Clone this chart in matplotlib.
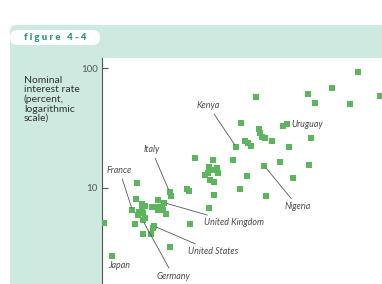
import matplotlib
matplotlib.use("Agg")
import matplotlib.pyplot as plt
from matplotlib.patches import FancyBboxPatch
from matplotlib.transforms import IdentityTransform

# inflation (%) vs nominal interest rate (%), both
inflation = [
    180, 104, 63.1, 285, 73.1, 152, 21.2, 37.6, 40.3, 29.5, 42.4, 67.6, 35.1, 64.9, 45.8,
    15.4, 22.6, 23.1, 23.9, 25.6, 16.9, 18.1, 19.1, 14.0, 5.89, 8.69, 13.0, 25.3,
    8.0, 7.31, 7.83, 8.69, 9.33, 9.66, 8.11, 8.87, 17.5, 4.98, 5.26, 8.73, 15.3, 26.2,
    7.94, 5.34, 1.74, 3.48, 3.57, 1.71, 1.60, 1.94, 2.10, 2.75, 2.43, 2.62, 2.75, 2.95,
    3.05, 3.21, 3.11, 1.84, 1.94, 1.81, 2.01, 2.06, 1.98, 1.68, 2.51, 2.44, 0.879,
    2.01, 2.36, 3.50, 1.04,
]
interest = [
    93.1, 68.4, 61.5, 58.1, 50.9, 50.2, 57.5, 32.9, 34.0, 24.8, 22.0, 25.9, 16.3, 15.6, 12.1,
    35.0, 30.8, 28.6, 26.7, 25.9, 24.6, 23.8, 22.3, 22.0, 17.7, 17.1, 16.9, 15.2,
    14.8, 12.8, 13.2, 14.1, 14.5, 13.2, 11.6, 11.2, 12.5, 9.82, 9.42, 8.74, 9.70, 8.52,
    6.80, 5.01, 11.0, 9.17, 8.52, 8.00, 6.44, 7.33, 7.03, 7.95, 6.93, 6.85, 6.44, 6.93,
    6.44, 6.00, 7.48, 6.29, 6.50, 5.91, 6.11, 5.55, 5.33, 4.94, 4.77, 4.62, 5.09,
    4.06, 4.06, 3.18, 2.68,
]

# labelled countries: (name, inflation, interest)
labelled = [
    ("France", 1.60, 6.44),
    ("Italy", 3.48, 9.17),
    ("Kenya", 14.0, 22.0),
    ("Uruguay", 40.3, 34.0),
    ("Nigeria", 25.3, 15.2),
    ("United Kingdom", 3.11, 7.48),
    ("United States", 2.51, 4.77),
    ("Germany", 1.98, 5.33),
    ("Japan", 1.04, 2.68),
]
# label offsets in points, and whether a leader line is drawn
offsets = {
    "France": (-9.4, 29, True),
    "Italy": (-13, 30.6, True),
    "Kenya": (-19.8, 29.5, True),
    "Uruguay": (3.2, 0, False),
    "Nigeria": (24.3, -29.5, True),
    "United Kingdom": (50.3, -14.4, True),
    "United States": (42.8, -18.5, True),
    "Germany": (22.3, -40.5, True),
    "Japan": (5, -7, False),
}

mint = "#cdeae0"
green = "#5cb65e"
ink = "#4a4a4a"

fig = plt.figure(figsize=(3.82, 2.84), dpi=100)
W, H = 382.0, 284.0

def fx(px):
    return px / W

def fy(py):
    return 1 - py / H

# background band + left panel (pixel coords, origin bottom-left)
px = IdentityTransform()
fig.patches.append(FancyBboxPatch((10, -20), 400, H - 25 + 20, boxstyle="round,pad=0,rounding_size=6",
                                  transform=px, fc=mint, ec="none", zorder=-2))
fig.patches.append(FancyBboxPatch((10, H - 45), 90, 15, boxstyle="round,pad=0,rounding_size=7.5",
                                  transform=px, fc="white", ec="none", zorder=-1))

fig.text(fx(24), fy(37.5), "f i g u r e   4 - 4", fontsize=6.8, fontweight="heavy", color="#2f9d6c",
         family=["Lato", "DejaVu Sans"], va="center", ha="left")

fig.text(fx(24), fy(76), "Nominal\ninterest rate\n(percent,\nlogarithmic\nscale)", fontsize=7.5,
         color="#333333", family=["Lato", "DejaVu Sans"], va="top", ha="left", linespacing=1.05)

ax = fig.add_axes([fx(102), 0, fx(280), (H - 58) / H])
ax.set_facecolor("white")
ax.set_xscale("log")
ax.set_yscale("log")
ax.set_xlim(0.845, 297)
ax.set_ylim(1.56, 122)

ax.scatter(inflation, interest, marker="s", s=13, color=green, linewidths=0, zorder=3)

for name, x, y in labelled:
    dx, dy, line = offsets[name]
    props = dict(arrowstyle="-", color="#555555", lw=0.6, shrinkA=1, shrinkB=2) if line else None
    ax.annotate(name, (x, y), xytext=(dx, dy), textcoords="offset points",
                fontsize=6.4, style="italic", color=ink, family=["Lato", "DejaVu Sans"],
                ha="left" if name == "Uruguay" else "center", va="center",
                arrowprops=props)

for s in ["top", "right", "bottom"]:
    ax.spines[s].set_visible(False)
ax.spines["left"].set_color("#555555")
ax.spines["left"].set_linewidth(0.8)
ax.set_xticks([])
ax.minorticks_off()
ax.set_yticks([10, 100])
ax.set_yticklabels(["10", "100"])
ax.tick_params(axis="y", direction="in", length=4.3, width=0.8, color="#555555", pad=3,
               labelsize=7, labelcolor="#555555", which="major")
ax.tick_params(axis="y", which="minor", length=0)
for t in ax.get_yticklabels():
    t.set_family(["Lato", "DejaVu Sans"])

fig.savefig("out.png", dpi=100, facecolor="white")
